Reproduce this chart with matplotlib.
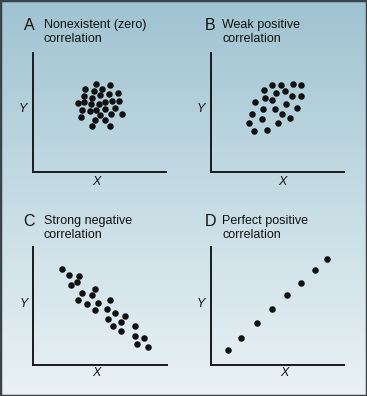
import numpy as np
import matplotlib
matplotlib.use("Agg")
import matplotlib.pyplot as plt
from matplotlib.colors import LinearSegmentedColormap
from matplotlib.patches import Rectangle

plt.rcParams['font.family'] = ['Liberation Sans', 'DejaVu Sans']

# panel letters and titles
letters = ["A", "B", "C", "D"]
titles = [["Nonexistent (zero)", "correlation"],
          ["Weak positive", "correlation"],
          ["Strong negative", "correlation"],
          ["Perfect positive", "correlation"]]

# A: nonexistent (zero) correlation
a_x = [4.73, 5.78, 3.93, 5.21, 4.61, 6.40, 5.71, 3.88, 5.06, 4.46,
       3.41, 3.84, 4.36, 4.96, 5.41, 5.96, 6.50, 3.73, 4.31, 4.76,
       5.45, 6.18, 3.66, 5.06, 5.86, 6.68, 4.68, 5.41, 4.48, 5.78]
a_y = [7.42, 7.29, 7.00, 6.97, 6.81, 6.66, 6.55, 6.41, 6.45, 6.19,
       5.80, 5.86, 5.74, 5.74, 5.88, 5.97, 5.99, 5.18, 5.10, 5.21,
       5.29, 5.38, 4.60, 4.76, 4.85, 4.85, 4.37, 4.37, 3.87, 3.87]

# B: weak positive correlation
b_x = [4.56, 5.26, 6.14, 6.79, 3.96, 4.86, 5.56, 6.11, 6.77, 4.04,
       4.61, 3.31, 5.66, 3.93, 4.79, 6.44, 3.06, 5.32, 3.83, 5.94,
       2.83, 5.06, 3.23, 4.21]
b_y = [7.31, 7.34, 7.42, 7.34, 6.89, 6.66, 6.81, 6.41, 6.36, 6.24,
       6.03, 5.88, 5.71, 5.27, 5.27, 5.40, 4.90, 4.85, 4.45, 4.51,
       4.12, 4.12, 3.42, 3.53]

# C: strong negative correlation
c_x = [2.14, 2.69, 3.43, 2.84, 3.31, 3.68, 4.38, 4.60, 3.38, 4.05,
       4.83, 5.77, 4.63, 5.54, 6.14, 6.87, 5.60, 6.57, 5.99, 6.59,
       7.61, 7.61, 8.31, 7.74, 8.60]
c_y = [8.14, 7.60, 7.57, 6.78, 7.01, 6.10, 5.93, 6.47, 5.48, 5.19,
       5.23, 5.51, 4.64, 4.75, 4.43, 4.15, 3.90, 3.67, 3.28, 2.91,
       3.33, 2.48, 2.31, 1.75, 1.53]

# D: perfect positive correlation
d_x = [1.28, 2.26, 3.46, 4.61, 5.69, 6.74, 7.82, 8.70]
d_y = [1.27, 2.31, 3.58, 4.75, 5.91, 6.97, 8.08, 9.01]

xs = [a_x, b_x, c_x, d_x]
ys = [a_y, b_y, c_y, d_y]

W, H = 367, 396
fig = plt.figure(figsize=(W / 100, H / 100), dpi=100)

# background gradient
bg = fig.add_axes([0, 0, 1, 1], zorder=-10)
cmap = LinearSegmentedColormap.from_list("bg", ["#9fc3d1", "#c6dce4", "#eaf2f5"])
bg.imshow(np.linspace(0, 1, 256).reshape(-1, 1), aspect="auto", cmap=cmap,
          extent=[0, 1, 0, 1])
bg.set_axis_off()

# axes boxes in pixels: left, top(y of x-axis), width, height
boxes = [(32.5, 172, 133.5, 119), (211, 172, 133, 119),
         (33, 365, 134, 118), (211, 365, 133, 118)]
# label anchors in pixels: letter x, title x, title y
heads = [(29, 44, 25), (210, 222, 25), (29.5, 44, 221), (210, 222, 221)]
xlab = [(0.48, -0.084), (0.536, -0.084), (0.475, -0.07), (0.549, -0.07)]
ylab = [(-0.071, 0.53), (-0.077, 0.53), (-0.065, 0.517), (-0.077, 0.517)]

for i in range(4):
    l, b, w, h = boxes[i]
    ax = fig.add_axes([l / W, 1 - b / H, w / W, h / H])
    ax.patch.set_alpha(0)
    ax.scatter(xs[i], ys[i], s=22, color="#111111", linewidths=0)
    ax.set_xlim(0, 10)
    ax.set_ylim(0, 10)
    ax.set_xticks([])
    ax.set_yticks([])
    ax.spines['top'].set_visible(False)
    ax.spines['right'].set_visible(False)
    for s in ['left', 'bottom']:
        ax.spines[s].set_linewidth(1.4)
        ax.spines[s].set_color("#1a1a1a")
    ax.text(xlab[i][0], xlab[i][1], "X", transform=ax.transAxes, ha="center",
            va="center", fontsize=9, style="italic", color="#111111")
    ax.text(ylab[i][0], ylab[i][1], "Y", transform=ax.transAxes, ha="center",
            va="center", fontsize=9, style="italic", color="#111111")

    lx, tx, ty = heads[i]
    fig.text(lx / W, 1 - ty / H, letters[i], ha="center", va="center",
             fontsize=11.5, color="#111111")
    fig.text(tx / W, 1 - ty / H, titles[i][0], ha="left", va="center",
             fontsize=9, color="#111111")
    fig.text(tx / W, 1 - (ty + 14) / H, titles[i][1], ha="left", va="center",
             fontsize=9, color="#111111")

# outer frame
fig.patches.append(Rectangle((0, 0), 1, 1, transform=fig.transFigure,
                             fill=False, edgecolor="#3a4448", linewidth=2.5))

fig.savefig("out.png", dpi=100)
